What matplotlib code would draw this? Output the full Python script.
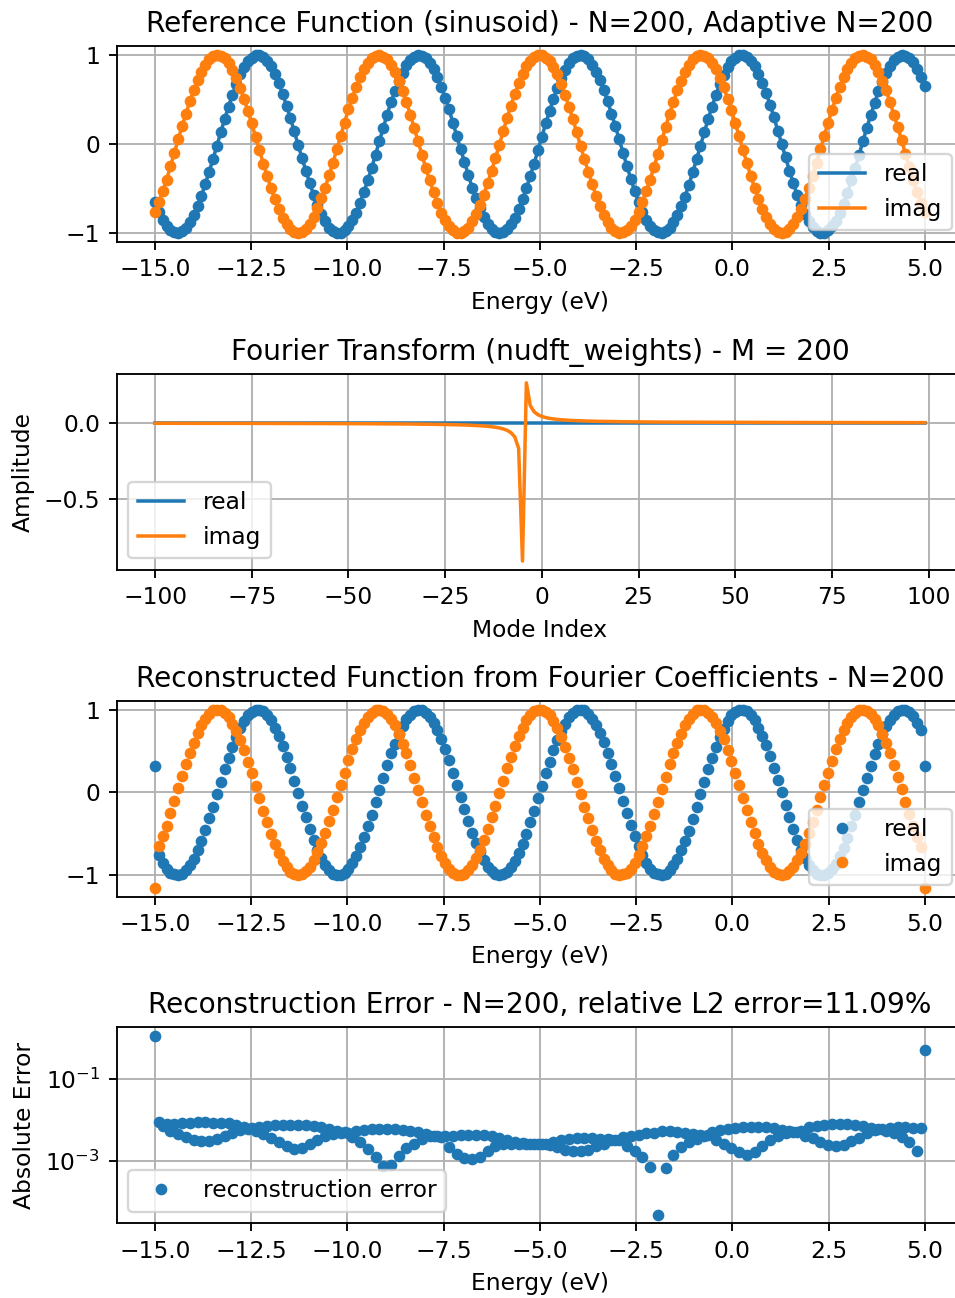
import numpy as np
import matplotlib
matplotlib.use("Agg")
import matplotlib.pyplot as plt

# ---------------- data ----------------
energy = np.linspace(-15, 5, 200)          # sample grid (eV)
modes = np.arange(-100, 100)               # Fourier mode indices

ref_real = [
    -0.65, -0.76, -0.85, -0.92, -0.97, -0.99, -1.00, -0.98, -0.94, -0.88,
    -0.80, -0.70, -0.58, -0.45, -0.31, -0.17, -0.02, 0.13, 0.28, 0.42,
    0.55, 0.67, 0.78, 0.86, 0.93, 0.97, 1.00, 1.00, 0.98, 0.93,
    0.87, 0.78, 0.68, 0.56, 0.43, 0.29, 0.14, -0.01, -0.16, -0.30,
    -0.44, -0.57, -0.69, -0.79, -0.87, -0.94, -0.98, -1.00, -1.00, -0.97,
    -0.92, -0.85, -0.77, -0.66, -0.54, -0.41, -0.27, -0.12, 0.03, 0.18,
    0.33, 0.47, 0.59, 0.71, 0.80, 0.89, 0.94, 0.98, 1.00, 0.99,
    0.96, 0.91, 0.84, 0.75, 0.64, 0.52, 0.39, 0.24, 0.09, -0.06,
    -0.20, -0.35, -0.49, -0.61, -0.72, -0.82, -0.90, -0.95, -0.99, -1.00,
    -0.99, -0.96, -0.90, -0.83, -0.73, -0.62, -0.50, -0.36, -0.22, -0.07,
    0.08, 0.23, 0.37, 0.51, 0.63, 0.74, 0.83, 0.91, 0.96, 0.99,
    1.00, 0.99, 0.95, 0.89, 0.81, 0.72, 0.61, 0.48, 0.34, 0.20,
    0.05, -0.10, -0.25, -0.39, -0.53, -0.65, -0.76, -0.85, -0.92, -0.97,
    -0.99, -1.00, -0.98, -0.94, -0.88, -0.80, -0.70, -0.59, -0.46, -0.32,
    -0.17, -0.02, 0.13, 0.28, 0.42, 0.55, 0.67, 0.77, 0.86, 0.93,
    0.97, 1.00, 1.00, 0.98, 0.93, 0.87, 0.78, 0.68, 0.57, 0.44,
    0.30, 0.15, 0.00, -0.15, -0.30, -0.44, -0.57, -0.69, -0.79, -0.87,
    -0.93, -0.98, -1.00, -1.00, -0.97, -0.92, -0.86, -0.77, -0.67, -0.55,
    -0.41, -0.27, -0.12, 0.03, 0.18, 0.32, 0.46, 0.59, 0.70, 0.80,
    0.88, 0.94, 0.98, 1.00, 0.99, 0.97, 0.92, 0.84, 0.75, 0.65,
]

ref_imag = [
    -0.76, -0.65, -0.53, -0.40, -0.25, -0.10, 0.05, 0.20, 0.34, 0.48,
    0.60, 0.72, 0.81, 0.89, 0.95, 0.99, 1.00, 0.99, 0.96, 0.91,
    0.83, 0.74, 0.63, 0.51, 0.37, 0.23, 0.08, -0.07, -0.22, -0.36,
    -0.50, -0.62, -0.73, -0.83, -0.90, -0.96, -0.99, -1.00, -0.99, -0.95,
    -0.90, -0.82, -0.72, -0.61, -0.49, -0.35, -0.21, -0.06, 0.09, 0.24,
    0.39, 0.52, 0.64, 0.75, 0.84, 0.91, 0.96, 0.99, 1.00, 0.98,
    0.95, 0.89, 0.81, 0.71, 0.59, 0.47, 0.33, 0.18, 0.03, -0.12,
    -0.27, -0.41, -0.54, -0.66, -0.77, -0.85, -0.92, -0.97, -1.00, -1.00,
    -0.98, -0.94, -0.87, -0.79, -0.69, -0.57, -0.44, -0.30, -0.16, -0.01,
    0.14, 0.29, 0.43, 0.56, 0.68, 0.78, 0.87, 0.93, 0.98, 1.00,
    1.00, 0.97, 0.93, 0.86, 0.78, 0.67, 0.55, 0.42, 0.28, 0.13,
    -0.02, -0.17, -0.31, -0.45, -0.58, -0.70, -0.80, -0.88, -0.94, -0.98,
    -1.00, -0.99, -0.97, -0.92, -0.85, -0.76, -0.65, -0.53, -0.40, -0.26,
    -0.11, 0.04, 0.19, 0.34, 0.47, 0.60, 0.71, 0.81, 0.89, 0.95,
    0.99, 1.00, 0.99, 0.96, 0.91, 0.84, 0.74, 0.64, 0.51, 0.38,
    0.23, 0.09, -0.07, -0.21, -0.36, -0.49, -0.62, -0.73, -0.82, -0.90,
    -0.96, -0.99, -1.00, -0.99, -0.95, -0.90, -0.82, -0.73, -0.62, -0.49,
    -0.36, -0.21, -0.06, 0.09, 0.24, 0.38, 0.52, 0.64, 0.75, 0.84,
    0.91, 0.96, 0.99, 1.00, 0.98, 0.95, 0.89, 0.81, 0.71, 0.60,
    0.47, 0.33, 0.19, 0.04, -0.11, -0.26, -0.40, -0.54, -0.66, -0.76,
]

# reconstruction coincides with the reference except at the two end points
recon_real = [0.32] + ref_real[1:-1] + [0.32]
recon_imag = [-1.15] + ref_imag[1:-1] + [-1.15]

fourier_real = [
    0.0, 0.0, 0.0, 0.0, 0.0, 0.0, 0.0, 0.0, 0.0, 0.0, 0.0, 0.0, 0.0, 0.0, 0.0, 0.0, 0.0, 0.0, 0.0, 0.0,
    0.0, 0.0, 0.0, 0.0, 0.0, 0.0, 0.0, 0.0, 0.0, 0.0, 0.0, 0.0, 0.0, 0.0, 0.0, 0.0, 0.0, 0.0, 0.0, 0.0,
    0.0, 0.0, 0.0, 0.0, 0.0, 0.0, 0.0, 0.0, 0.0, 0.0, 0.0, 0.0, 0.0, 0.0, 0.0, 0.0, 0.0, 0.0, 0.0, 0.0,
    0.0, 0.0, 0.0, 0.0, 0.0, 0.0, 0.0, 0.0, 0.0, 0.0, 0.0, 0.0, 0.0, 0.0, 0.0, 0.0, 0.0, 0.0, 0.0, 0.0,
    0.0, 0.0, 0.0, 0.0, 0.0, 0.0, 0.0, 0.0, 0.0, 0.0, 0.0, 0.0, 0.0, 0.0, 0.0, 0.0, 0.0, 0.0, 0.0, 0.0,
    0.0, 0.0, 0.0, 0.0, 0.0, 0.0, 0.0, 0.0, 0.0, 0.0, 0.0, 0.0, 0.0, 0.0, 0.0, 0.0, 0.0, 0.0, 0.0, 0.0,
    0.0, 0.0, 0.0, 0.0, 0.0, 0.0, 0.0, 0.0, 0.0, 0.0, 0.0, 0.0, 0.0, 0.0, 0.0, 0.0, 0.0, 0.0, 0.0, 0.0,
    0.0, 0.0, 0.0, 0.0, 0.0, 0.0, 0.0, 0.0, 0.0, 0.0, 0.0, 0.0, 0.0, 0.0, 0.0, 0.0, 0.0, 0.0, 0.0, 0.0,
    0.0, 0.0, 0.0, 0.0, 0.0, 0.0, 0.0, 0.0, 0.0, 0.0, 0.0, 0.0, 0.0, 0.0, 0.0, 0.0, 0.0, 0.0, 0.0, 0.0,
    0.0, 0.0, 0.0, 0.0, 0.0, 0.0, 0.0, 0.0, 0.0, 0.0, 0.0, 0.0, 0.0, 0.0, 0.0, 0.0, 0.0, 0.0, 0.0, 0.0,
]

fourier_imag = [
    -0.0022, -0.0022, -0.0022, -0.0022, -0.0022, -0.0023, -0.0023, -0.0023, -0.0024, -0.0024,
    -0.0024, -0.0024, -0.0025, -0.0025, -0.0025, -0.0026, -0.0026, -0.0026, -0.0027, -0.0027,
    -0.0027, -0.0028, -0.0028, -0.0028, -0.0029, -0.0029, -0.0030, -0.0030, -0.0031, -0.0031,
    -0.0031, -0.0032, -0.0032, -0.0033, -0.0034, -0.0034, -0.0035, -0.0035, -0.0036, -0.0037,
    -0.0037, -0.0038, -0.0039, -0.0039, -0.0040, -0.0041, -0.0042, -0.0043, -0.0043, -0.0044,
    -0.0045, -0.0046, -0.0047, -0.0049, -0.0050, -0.0051, -0.0052, -0.0054, -0.0055, -0.0057,
    -0.0058, -0.0060, -0.0062, -0.0064, -0.0066, -0.0068, -0.0070, -0.0073, -0.0075, -0.0078,
    -0.0081, -0.0085, -0.0088, -0.0092, -0.0097, -0.0101, -0.0107, -0.0113, -0.0119, -0.0126,
    -0.0135, -0.0144, -0.0155, -0.0168, -0.0183, -0.0201, -0.0222, -0.0249, -0.0284, -0.0329,
    -0.0392, -0.0485, -0.0636, -0.0921, -0.1674, -0.9111, 0.2645, 0.1155, 0.0739, 0.0543,
    0.0429, 0.0355, 0.0303, 0.0264, 0.0234, 0.0210, 0.0190, 0.0174, 0.0161, 0.0149,
    0.0139, 0.0130, 0.0122, 0.0115, 0.0109, 0.0104, 0.0099, 0.0094, 0.0090, 0.0086,
    0.0083, 0.0080, 0.0077, 0.0074, 0.0071, 0.0069, 0.0067, 0.0065, 0.0063, 0.0061,
    0.0059, 0.0057, 0.0056, 0.0054, 0.0053, 0.0052, 0.0050, 0.0049, 0.0048, 0.0047,
    0.0046, 0.0045, 0.0044, 0.0043, 0.0042, 0.0041, 0.0040, 0.0040, 0.0039, 0.0038,
    0.0037, 0.0037, 0.0036, 0.0036, 0.0035, 0.0034, 0.0034, 0.0033, 0.0033, 0.0032,
    0.0032, 0.0031, 0.0031, 0.0030, 0.0030, 0.0029, 0.0029, 0.0029, 0.0028, 0.0028,
    0.0027, 0.0027, 0.0027, 0.0026, 0.0026, 0.0026, 0.0025, 0.0025, 0.0025, 0.0025,
    0.0024, 0.0024, 0.0024, 0.0023, 0.0023, 0.0023, 0.0023, 0.0022, 0.0022, 0.0022,
    0.0022, 0.0021, 0.0021, 0.0021, 0.0021, 0.0021, 0.0020, 0.0020, 0.0020, 0.0020,
]

recon_error = [
    1.1, 8.9e-3, 7.4e-3, 8.1e-3, 5.6e-3, 8.1e-3, 4.6e-3, 8.4e-3, 3.8e-3, 8.7e-3,
    3.3e-3, 8.9e-3, 3.1e-3, 8.9e-3, 3.1e-3, 8.7e-3, 3.5e-3, 8.6e-3, 4.1e-3, 8.4e-3,
    4.8e-3, 7.8e-3, 5.8e-3, 6.7e-3, 6.1e-3, 6.5e-3, 5.6e-3, 7.0e-3, 4.6e-3, 7.4e-3,
    3.7e-3, 7.5e-3, 2.9e-3, 7.7e-3, 2.3e-3, 7.7e-3, 2.0e-3, 7.7e-3, 2.15e-3, 7.5e-3,
    2.6e-3, 7.2e-3, 3.3e-3, 6.7e-3, 4.1e-3, 6.1e-3, 4.6e-3, 5.6e-3, 5.0e-3, 5.1e-3,
    4.8e-3, 3.8e-3, 5.4e-3, 2.9e-3, 5.8e-3, 2.0e-3, 6.0e-3, 1.3e-3, 6.1e-3, 7.6e-4,
    6.1e-3, 8.2e-4, 6.0e-3, 1.37e-3, 5.9e-3, 2.1e-3, 5.6e-3, 2.7e-3, 5.2e-3, 3.5e-3,
    4.6e-3, 4.0e-3, 4.2e-3, 4.1e-3, 3.8e-3, 4.0e-3, 2.2e-3, 4.2e-3, 1.5e-3, 4.3e-3,
    1.2e-3, 4.4e-3, 1.14e-3, 4.4e-3, 1.3e-3, 4.3e-3, 1.75e-3, 4.1e-3, 2.3e-3, 3.6e-3,
    2.7e-3, 3.2e-3, 2.6e-3, 2.9e-3, 2.6e-3, 2.8e-3, 2.6e-3, 2.7e-3, 2.6e-3, 2.7e-3,
    2.6e-3, 2.7e-3, 2.55e-3, 2.95e-3, 2.2e-3, 3.2e-3, 1.9e-3, 3.4e-3, 1.75e-3, 3.6e-3,
    1.75e-3, 3.6e-3, 1.9e-3, 3.6e-3, 2.3e-3, 3.5e-3, 2.7e-3, 3.4e-3, 3.2e-3, 3.3e-3,
    3.3e-3, 3.8e-3, 2.4e-3, 4.1e-3, 1.8e-3, 4.4e-3, 1.3e-3, 4.8e-3, 7.1e-4, 5.0e-3,
    5.0e-5, 5.3e-3, 6.9e-4, 5.4e-3, 1.4e-3, 5.2e-3, 2.2e-3, 5.0e-3, 2.9e-3, 4.6e-3,
    3.5e-3, 4.3e-3, 4.1e-3, 4.45e-3, 5.1e-3, 3.2e-3, 5.8e-3, 2.6e-3, 6.1e-3, 2.1e-3,
    6.5e-3, 1.66e-3, 6.7e-3, 1.45e-3, 6.7e-3, 1.7e-3, 6.7e-3, 2.4e-3, 6.7e-3, 3.3e-3,
    6.5e-3, 4.1e-3, 5.8e-3, 4.8e-3, 5.3e-3, 5.1e-3, 5.1e-3, 5.6e-3, 4.2e-3, 7.0e-3,
    3.6e-3, 7.4e-3, 3.0e-3, 7.8e-3, 2.55e-3, 8.1e-3, 2.4e-3, 8.1e-3, 2.55e-3, 8.0e-3,
    3.1e-3, 7.7e-3, 3.7e-3, 7.2e-3, 4.8e-3, 6.5e-3, 5.8e-3, 6.0e-3, 6.2e-3, 5.6e-3,
    6.5e-3, 4.8e-3, 6.7e-3, 3.8e-3, 6.7e-3, 2.9e-3, 6.6e-3, 1.8e-3, 6.5e-3, 0.52,
]

# ---------------- figure ----------------
DPI = 168
fig = plt.figure(figsize=(955 / DPI, 1298 / DPI), dpi=DPI)
left, width, height = 0.122, 0.8867, 0.151
ax1 = fig.add_axes([left, 0.8136, width, height])
ax2 = fig.add_axes([left, 0.5609, width, height])
ax3 = fig.add_axes([left, 0.3092, width, height])
ax4 = fig.add_axes([left, 0.0574, width, height])

# Panel 1: reference function
ax1.plot(energy, ref_real, color="C0", label="real")
ax1.plot(energy, ref_imag, color="C1", label="imag")
ax1.plot(energy, ref_real, "o", color="C0", ms=4)
ax1.plot(energy, ref_imag, "o", color="C1", ms=4)
ax1.set_title("Reference Function (sinusoid) - N=200, Adaptive N=200")
ax1.set_xlabel("Energy (eV)")
ax1.legend(loc="lower right")
ax1.grid(True)

# Panel 2: Fourier coefficients
ax2.plot(modes, fourier_real, color="C0", label="real")
ax2.plot(modes, fourier_imag, color="C1", label="imag")
ax2.set_title("Fourier Transform (nudft_weights) - M = 200")
ax2.set_xlabel("Mode Index")
ax2.set_ylabel("Amplitude")
ax2.legend(loc="lower left")
ax2.grid(True)

# Panel 3: reconstruction
ax3.plot(energy, recon_real, "o", color="C0", ms=4, label="real")
ax3.plot(energy, recon_imag, "o", color="C1", ms=4, label="imag")
ax3.set_title("Reconstructed Function from Fourier Coefficients - N=200")
ax3.set_xlabel("Energy (eV)")
ax3.legend(loc="lower right")
ax3.grid(True)

# Panel 4: reconstruction error
ax4.semilogy(energy, recon_error, "o", color="C0", ms=4, label="reconstruction error")
ax4.set_title("Reconstruction Error - N=200, relative L2 error=11.09%")
ax4.set_xlabel("Energy (eV)")
ax4.set_ylabel("Absolute Error")
ax4.legend(loc="lower left")
ax4.grid(True)

fig.savefig("out.png", dpi=DPI)
